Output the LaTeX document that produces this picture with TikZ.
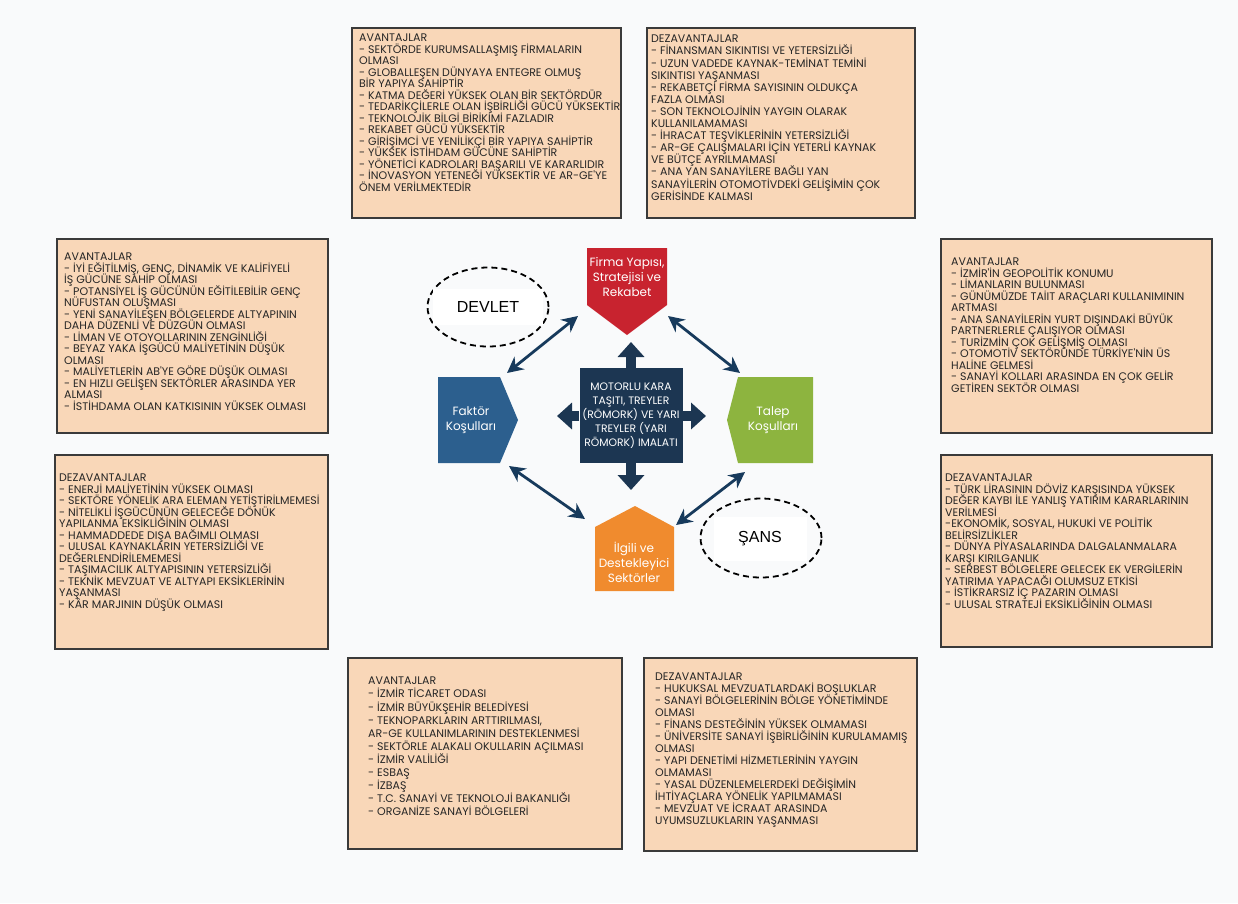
\documentclass[tikz,border=0pt]{standalone}
\usepackage{fontspec}
\usepackage{tikz}
\usetikzlibrary{calc,arrows.meta,shapes.geometric}
\newfontfamily\gothic{Poppins}
\newfontfamily\arialfont{Liberation Sans}
\definecolor{bg}{HTML}{F9FAFB}
\definecolor{peach}{HTML}{F9D7B8}
\definecolor{frame}{HTML}{3A3A3A}
\definecolor{ink}{HTML}{262626}
\definecolor{firmared}{HTML}{C8232F}
\definecolor{faktorblue}{HTML}{2C5F8E}
\definecolor{talepgreen}{HTML}{8DB43F}
\definecolor{ilgiliorange}{HTML}{F08B2E}
\definecolor{corenavy}{HTML}{1C3652}
\definecolor{arrownavy}{HTML}{173A5C}
\newcommand\cardfont[1]{\gothic\fontsize{11}{#1}\selectfont}
\tikzset{
  card/.style={draw=frame, fill=peach, line width=1.2pt},
  cardtxt/.style={text=ink, align=left, inner sep=0pt, anchor=north west,
    font=\cardfont{#1}},
  cardtxt/.default=11.5,
  lbl/.style={text=white, align=center, inner sep=0pt,
    font=\gothic\fontsize{12}{15}\selectfont},
  core/.style={fill=corenavy, minimum width=103pt, minimum height=95pt, inner sep=0pt,
    text=white, align=center, font=\gothic\fontsize{10.8}{14}\selectfont},
  fat/.style={draw=corenavy, line width=10pt, -{Triangle[width=26pt,length=15pt]}},
  dbl/.style={draw=arrownavy, line width=2.8pt,
    {Stealth[length=16pt,width=16pt]}-{Stealth[length=16pt,width=16pt]}},
  ell/.style={ellipse, draw=black, line width=1.8pt, dash pattern=on 6pt off 4pt,
    minimum width=121pt, minimum height=79pt, inner sep=0pt},
  tag/.style={fill=white, inner sep=0pt, font=\arialfont\fontsize{16}{18}\selectfont},
}
\lineskiplimit=-20pt
\begin{document}
\lineskiplimit=-20pt
\begin{tikzpicture}[x=1pt,y=-1pt]
  \fill[bg] (0,0) rectangle (1238,903);
  \useasboundingbox (0,0) rectangle (1238,903);

  % outer boxes
  \draw[card] (352,28) rectangle (621,218);
  \node[cardtxt] (firmaav) at (359,34) {AVANTAJLAR\\
- SEKTÖRDE KURUMSALLAŞMIŞ FİRMALARIN\\
OLMASI\\
- GLOBALLEŞEN DÜNYAYA ENTEGRE OLMUŞ\\
BİR YAPIYA SAHİPTİR\\
- KATMA DEĞERİ YÜKSEK OLAN BİR SEKTÖRDÜR\\
- TEDARİKÇİLERLE OLAN İŞBİRLİĞİ GÜCÜ YÜKSEKTİR\\
- TEKNOLOJİK BİLGİ BİRİKİMİ FAZLADIR\\
- REKABET GÜCÜ YÜKSEKTİR\\
- GİRİŞİMCİ VE YENİLİKÇİ BİR YAPIYA SAHİPTİR\\
- YÜKSEK İSTİHDAM GÜCÜNE SAHİPTİR\\
- YÖNETİCİ KADROLARI BAŞARILI VE KARARLIDIR\\
- İNOVASYON YETENEĞİ YÜKSEKTİR VE AR-GE'YE\\
ÖNEM VERİLMEKTEDİR};

  \draw[card] (647,28) rectangle (915,218);
  \node[cardtxt=12.1] (firmadez) at (651,35) {DEZAVANTAJLAR\\
- FİNANSMAN SIKINTISI VE YETERSİZLİĞİ\\
- UZUN VADEDE KAYNAK-TEMİNAT TEMİNİ\\
SIKINTISI YAŞANMASI\\
- REKABETÇİ FİRMA SAYISININ OLDUKÇA\\
FAZLA OLMASI\\
- SON TEKNOLOJİNİN YAYGIN OLARAK\\
KULLANILAMAMASI\\
- İHRACAT TEŞVİKLERİNİN YETERSİZLİĞİ\\
- AR-GE ÇALIŞMALARI İÇİN YETERLİ KAYNAK\\
VE BÜTÇE AYRILMAMASI\\
- ANA YAN SANAYİLERE BAĞLI YAN\\
SANAYİLERİN OTOMOTİVDEKİ GELİŞİMİN ÇOK\\
GERİSİNDE KALMASI};

  \draw[card] (57,239) rectangle (328,433);
  \node[cardtxt] (faktorav) at (64,253) {AVANTAJLAR\\
- İYİ EĞİTİLMİŞ, GENÇ, DİNAMİK VE KALİFİYELİ\\
İŞ GÜCÜNE SAHİP OLMASI\\
- POTANSİYEL İŞ GÜCÜNÜN EĞİTİLEBİLİR GENÇ\\
NÜFUSTAN OLUŞMASI\\
- YENİ SANAYİLEŞEN BÖLGELERDE ALTYAPININ\\
DAHA DÜZENLİ VE DÜZGÜN OLMASI\\
- LİMAN VE OTOYOLLARININ ZENGİNLİĞİ\\
- BEYAZ YAKA İŞGÜCÜ MALİYETİNİN DÜŞÜK\\
OLMASI\\
- MALİYETLERİN AB'YE GÖRE DÜŞÜK OLMASI\\
- EN HIZLI GELİŞEN SEKTÖRLER ARASINDA YER\\
ALMASI\\
- İSTİHDAMA OLAN KATKISININ YÜKSEK OLMASI};

  \draw[card] (55,455) rectangle (328,649);
  \node[cardtxt] (faktordez) at (59,474) {DEZAVANTAJLAR\\
- ENERJİ MALİYETİNİN YÜKSEK OLMASI\\
- SEKTÖRE YÖNELİK ARA ELEMAN YETİŞTİRİLMEMESİ\\
- NİTELİKLİ İŞGÜCÜNÜN GELECEĞE DÖNÜK\\
YAPILANMA EKSİKLİĞİNİN OLMASI\\
- HAMMADDEDE DIŞA BAĞIMLI OLMASI\\
- ULUSAL KAYNAKLARIN YETERSİZLİĞİ VE\\
DEĞERLENDİRİLEMEMESİ\\
- TAŞIMACILIK ALTYAPISININ YETERSİZLİĞİ\\
- TEKNİK MEVZUAT VE ALTYAPI EKSİKLERİNİN\\
YAŞANMASI\\
- KÂR MARJININ DÜŞÜK OLMASI};

  \draw[card] (941,239) rectangle (1212,433);
  \node[cardtxt] (talepav) at (951,258) {AVANTAJLAR\\
- İZMİR'İN GEOPOLİTİK KONUMU\\
- LİMANLARIN BULUNMASI\\
- GÜNÜMÜZDE TAİIT ARAÇLARI KULLANIMININ\\
ARTMASI\\
- ANA SANAYİLERİN YURT DIŞINDAKİ BÜYÜK\\
PARTNERLERLE ÇALIŞIYOR OLMASI\\
- TURİZMİN ÇOK GELİŞMİŞ OLMASI\\
- OTOMOTİV SEKTÖRÜNDE TÜRKİYE'NİN ÜS\\
HALİNE GELMESİ\\
- SANAYİ KOLLARI ARASINDA EN ÇOK GELİR\\
GETİREN SEKTÖR OLMASI};

  \draw[card] (941,455) rectangle (1212,647);
  \node[cardtxt] (talepdez) at (945,474) {DEZAVANTAJLAR\\
- TÜRK LİRASININ DÖVİZ KARŞISINDA YÜKSEK\\
DEĞER KAYBI İLE YANLIŞ YATIRIM KARARLARININ\\
VERİLMESİ\\
-EKONOMİK, SOSYAL, HUKUKİ VE POLİTİK\\
BELİRSİZLİKLER\\
- DÜNYA PİYASALARINDA DALGALANMALARA\\
KARŞI KIRILGANLIK\\
- SERBEST BÖLGELERE GELECEK EK VERGİLERİN\\
YATIRIMA YAPACAĞI OLUMSUZ ETKİSİ\\
- İSTİKRARSIZ İÇ PAZARIN OLMASI\\
- ULUSAL STRATEJİ EKSİKLİĞİNİN OLMASI};

  \draw[card] (348,658) rectangle (622,849);
  \node[cardtxt=13.1] (ilgiliav) at (368,677) {AVANTAJLAR\\
- İZMİR TİCARET ODASI\\
- İZMİR BÜYÜKŞEHİR BELEDİYESİ\\
- TEKNOPARKLARIN ARTTIRILMASI,\\
AR-GE KULLANIMLARININ DESTEKLENMESİ\\
- SEKTÖRLE ALAKALI OKULLARIN AÇILMASI\\
- İZMİR VALİLİĞİ\\
- ESBAŞ\\
- İZBAŞ\\
- T.C. SANAYİ VE TEKNOLOJİ BAKANLIĞI\\
- ORGANİZE SANAYİ BÖLGELERİ};

  \draw[card] (644,658) rectangle (917,851);
  \node[cardtxt=12] (ilgilidez) at (655,673) {DEZAVANTAJLAR\\
- HUKUKSAL MEVZUATLARDAKİ BOŞLUKLAR\\
- SANAYİ BÖLGELERİNİN BÖLGE YÖNETİMİNDE\\
OLMASI\\
- FİNANS DESTEĞİNİN YÜKSEK OLMAMASI\\
- ÜNİVERSİTE SANAYİ İŞBİRLİĞİNİN KURULAMAMIŞ\\
OLMASI\\
- YAPI DENETİMİ HİZMETLERİNİN YAYGIN\\
OLMAMASI\\
- YASAL DÜZENLEMELERDEKİ DEĞİŞİMİN\\
İHTİYAÇLARA YÖNELİK YAPILMAMASI\\
- MEVZUAT VE İCRAAT ARASINDA\\
UYUMSUZLUKLARIN YAŞANMASI};

  % diamond of the four conditions
  \fill[firmared] (587,248) -- (667,248) -- (667,305) -- (627,335) -- (587,305) -- cycle;
  \node[lbl] (firma) at (627,277) {Firma Yapısı,\\Stratejisi ve\\Rekabet};
  \fill[faktorblue] (438,377) -- (500,377) -- (518,420) -- (500,463) -- (438,463) -- cycle;
  \node[lbl] (faktor) at (471,420) {Faktör\\Koşulları};
  \fill[talepgreen] (738,377) -- (813,377) -- (813,463) -- (738,463) -- (727,420) -- cycle;
  \node[lbl] (talep) at (773,420) {Talep\\Koşulları};
  \fill[ilgiliorange] (595,527) -- (635,506) -- (674,527) -- (674,591) -- (595,591) -- cycle;
  \node[lbl] (ilgili) at (634,562) {İlgili ve\\Destekleyici\\Sektörler};

  \node[core] (motor) at (631,415.5) {MOTORLU KARA\\TAŞITI, TREYLER\\(RÖMORK) VE YARI\\TREYLER (YARI\\RÖMORK) IMALATI};

  % thick arrows out of the centre
  \coordinate (uptip) at (631,342);
  \coordinate (downtip) at (631,490);
  \coordinate (lefttip) at (557,416);
  \coordinate (righttip) at (706,416);
  \draw[fat] (motor.north) -- (uptip);
  \draw[fat] (motor.south) -- (downtip);
  \draw[fat] (motor.west |- lefttip) -- (lefttip);
  \draw[fat] (motor.east |- righttip) -- (righttip);

  % links between the corners
  \coordinate (faktor-n) at (507,373);
  \coordinate (firma-w) at (578,316);
  \coordinate (firma-e) at (668,316);
  \coordinate (talep-n) at (740,373);
  \coordinate (faktor-s) at (509,466);
  \coordinate (ilgili-w) at (585,519);
  \coordinate (talep-s) at (745,472);
  \coordinate (ilgili-e) at (676,525);
  \draw[dbl] (faktor-n) -- (firma-w);
  \draw[dbl] (firma-e) -- (talep-n);
  \draw[dbl] (faktor-s) -- (ilgili-w);
  \draw[dbl] (talep-s) -- (ilgili-e);

  % chance and state
  \node[ell] (devlet) at (488,307) {};
  \node[tag, minimum width=110pt, minimum height=36pt] (devlettxt) at (devlet) {DEVLET};
  \node[ell] (sans) at (761,538) {};
  \node[tag, minimum width=93pt, minimum height=44pt] (sanstxt) at (760,539) {ŞANS};
\end{tikzpicture}
\end{document}
